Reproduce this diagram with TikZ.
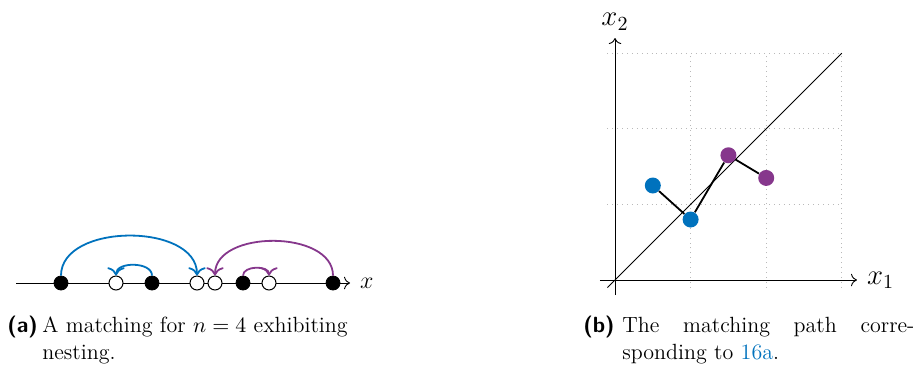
\documentclass[tikz,border=0pt]{standalone}
\usepackage{xcolor}
\usepackage{tikz}
\usetikzlibrary{positioning,arrows.meta}
\definecolor{mblue}{RGB}{0,114,189}
\definecolor{mpurple}{RGB}{134,55,140}

\begin{document}
\begin{tikzpicture}[x=0.5pt, y=-0.5pt, >={To[scale=1.15]},
    filled/.style={circle, draw=black, fill=black, inner sep=0pt, minimum size=7pt},
    hollow/.style={circle, draw=black, fill=white, inner sep=0pt, minimum size=7pt, line width=0.5pt},
    pathdot/.style={circle, fill=#1, inner sep=0pt, minimum size=8pt},
    bluearc/.style={->, line width=0.9pt, mblue},
    purplearc/.style={->, line width=0.9pt, mpurple},
    axis/.style={->, line width=0.45pt},
    caplabel/.style={anchor=base west, inner sep=0pt, font=\fontsize{11}{13.5}\selectfont\sffamily\bfseries},
    captext/.style={anchor=base west, inner sep=0pt, align=left, font=\fontsize{11}{13.5}\selectfont}]

    \useasboundingbox (0,0) rectangle (919,370);

    % (a) matching on the line
    \coordinate (astart) at (16,283);
    \coordinate (aend) at (350,283);
    \draw [axis] (astart) -- (aend);
    \node [right=1.5pt of aend, font=\large] (xlab) {$x$};

    \node [filled] (b1) at (61,283) {};
    \node [hollow] (w1) at (116,283) {};
    \node [filled] (b2) at (152,283) {};
    \node [hollow] (w2) at (197,283) {};
    \node [hollow] (w3) at (215,283) {};
    \node [filled] (b3) at (243,283) {};
    \node [hollow] (w4) at (269,283) {};
    \node [filled] (b4) at (333,283) {};

    \draw [bluearc] (b1.north) to[out=90, in=90] (w2.north);
    \draw [bluearc] (b2.north) to[out=90, in=90] (w1.north);
    \draw [purplearc] (b4.north) to[out=90, in=90] (w3.north);
    \draw [purplearc] (b3.north) to[out=90, in=90] (w4.north);

    % (b) matching path
    \begin{scope}[shift={(615,280)}, x=37.8pt, y=37.8pt]
        \draw [gray!55, dotted, line width=0.45pt, step=1] (-0.1,-0.1) grid (3,3);
        \draw [line width=0.45pt] (-0.1,-0.1) -- (3,3);
        \coordinate (xstart) at (-0.2,0);
        \coordinate (xend) at (3.2,0);
        \coordinate (ystart) at (0,-0.2);
        \coordinate (yend) at (0,3.2);
        \draw [axis] (xstart) -- (xend);
        \draw [axis] (ystart) -- (yend);
        \node [right=1.5pt of xend, font=\Large] (x1lab) {$x_1$};
        \node [above=0.5pt of yend, font=\Large] (x2lab) {$x_2$};

        \node [pathdot=mblue] (p1) at (0.5,1.25) {};
        \node [pathdot=mblue] (p2) at (1,0.8) {};
        \node [pathdot=mpurple] (p3) at (1.5,1.65) {};
        \node [pathdot=mpurple] (p4) at (2,1.35) {};
        \draw [line width=0.9pt] (p1) -- (p2) -- (p3) -- (p4);
    \end{scope}

    % captions
    \node [caplabel] (capa) at (7,332) {(a)};
    \node [captext, text width=180pt] (texta) at (42,332) {A matching for $n = 4$ exhibiting\\nesting.};
    \node [caplabel] (capb) at (583,332) {(b)};
    \node [captext, text width=146pt] (textb) at (622,332) {The\hfill matching\hfill path\hfill corre-\\sponding to \textcolor{mblue}{16a}.};
\end{tikzpicture}
\end{document}
